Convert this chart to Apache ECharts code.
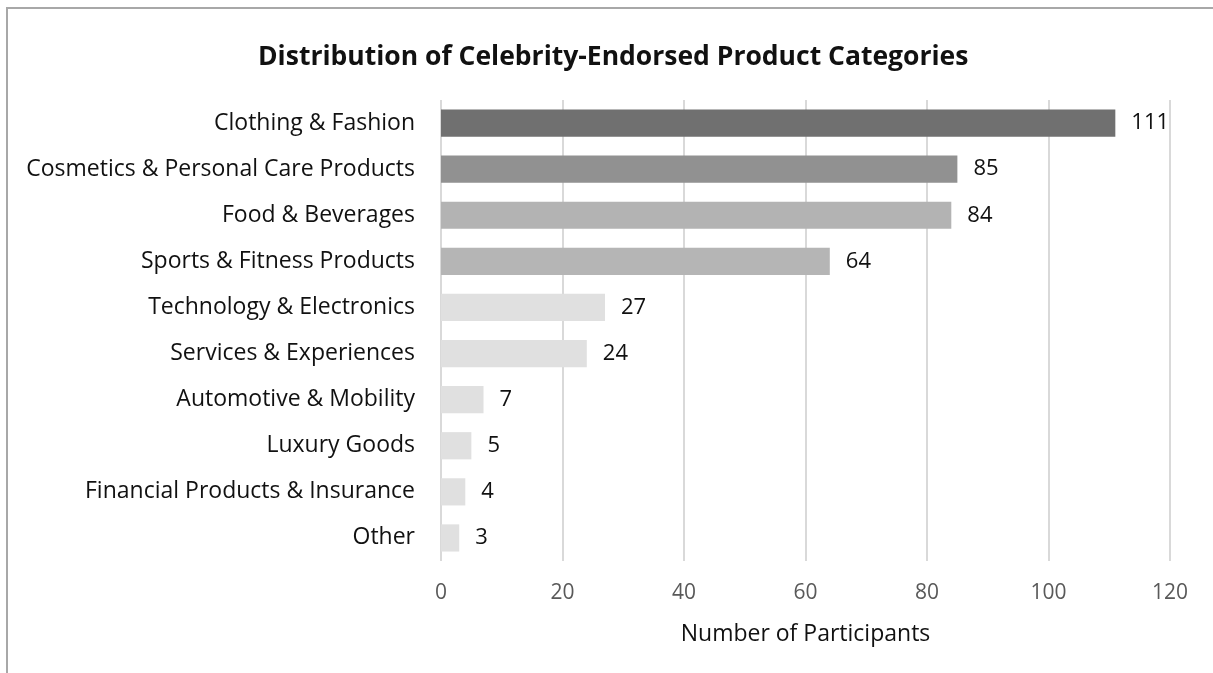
<!DOCTYPE html>
<html>
<head>
<meta charset="utf-8">
<script src="https://cdn.jsdelivr.net/npm/echarts@6/dist/echarts.min.js"></script>
<style>
  html, body { margin: 0; padding: 0; background: #fff; }
  #chart { width: 1213px; height: 673px; }
</style>
</head>
<body>
<div id="chart"></div>
<script>
// Product categories, listed top to bottom
const categories = [
  'Clothing & Fashion',
  'Cosmetics & Personal Care Products',
  'Food & Beverages',
  'Sports & Fitness Products',
  'Technology & Electronics',
  'Services & Experiences',
  'Automotive & Mobility',
  'Luxury Goods',
  'Financial Products & Insurance',
  'Other'
];
// Number of participants per category
const participants = [111, 85, 84, 64, 27, 24, 7, 5, 4, 3];
// Bar shade per category
const barColors = ['#707070', '#919191', '#b3b3b3', '#b5b5b5', '#e0e0e0', '#e0e0e0', '#e0e0e0', '#e0e0e0', '#e0e0e0', '#e0e0e0'];
const xTicks = [0, 20, 40, 60, 80, 100, 120];

const FONT = '"Open Sans", "DejaVu Sans", sans-serif';
const chart = echarts.init(document.getElementById('chart'), null, { renderer: 'canvas' });

chart.setOption({
  backgroundColor: '#ffffff',
  animation: false,
  title: {
    text: 'Distribution of Celebrity-Endorsed Product Categories',
    left: 253,
    top: 39,
    textStyle: { fontFamily: FONT, fontSize: 26.5, fontWeight: 'bold', color: '#111' }
  },
  graphic: [{
    type: 'polyline',
    shape: { points: [[7, 673], [7, 8], [1213, 8]] },
    style: { stroke: '#a8a8a8', lineWidth: 2, fill: null }
  }],
  grid: { left: 441, right: 43, top: 100, bottom: 112 },
  xAxis: {
    type: 'value',
    min: xTicks[0],
    max: xTicks[xTicks.length - 1],
    interval: 20,
    axisLine: { show: false },
    axisTick: { show: false },
    splitLine: { lineStyle: { color: '#d9d9d9', width: 2 } },
    axisLabel: { fontFamily: FONT, fontSize: 21, color: '#595959', margin: 22 },
    name: 'Number of Participants',
    nameLocation: 'middle',
    nameGap: 62,
    nameTextStyle: { fontFamily: FONT, fontSize: 23, color: '#111' }
  },
  yAxis: {
    type: 'category',
    inverse: true,
    data: categories,
    axisLine: { show: false },
    axisTick: { show: false },
    axisLabel: { fontFamily: FONT, fontSize: 23, color: '#111', margin: 26 }
  },
  series: [{
    type: 'bar',
    data: participants.map((v, i) => ({ value: v, itemStyle: { color: barColors[i] } })),
    barCategoryGap: '41%',
    label: {
      show: true,
      position: 'right',
      distance: 16,
      fontFamily: FONT,
      fontSize: 22,
      color: '#111'
    }
  }]
});
</script>
</body>
</html>
